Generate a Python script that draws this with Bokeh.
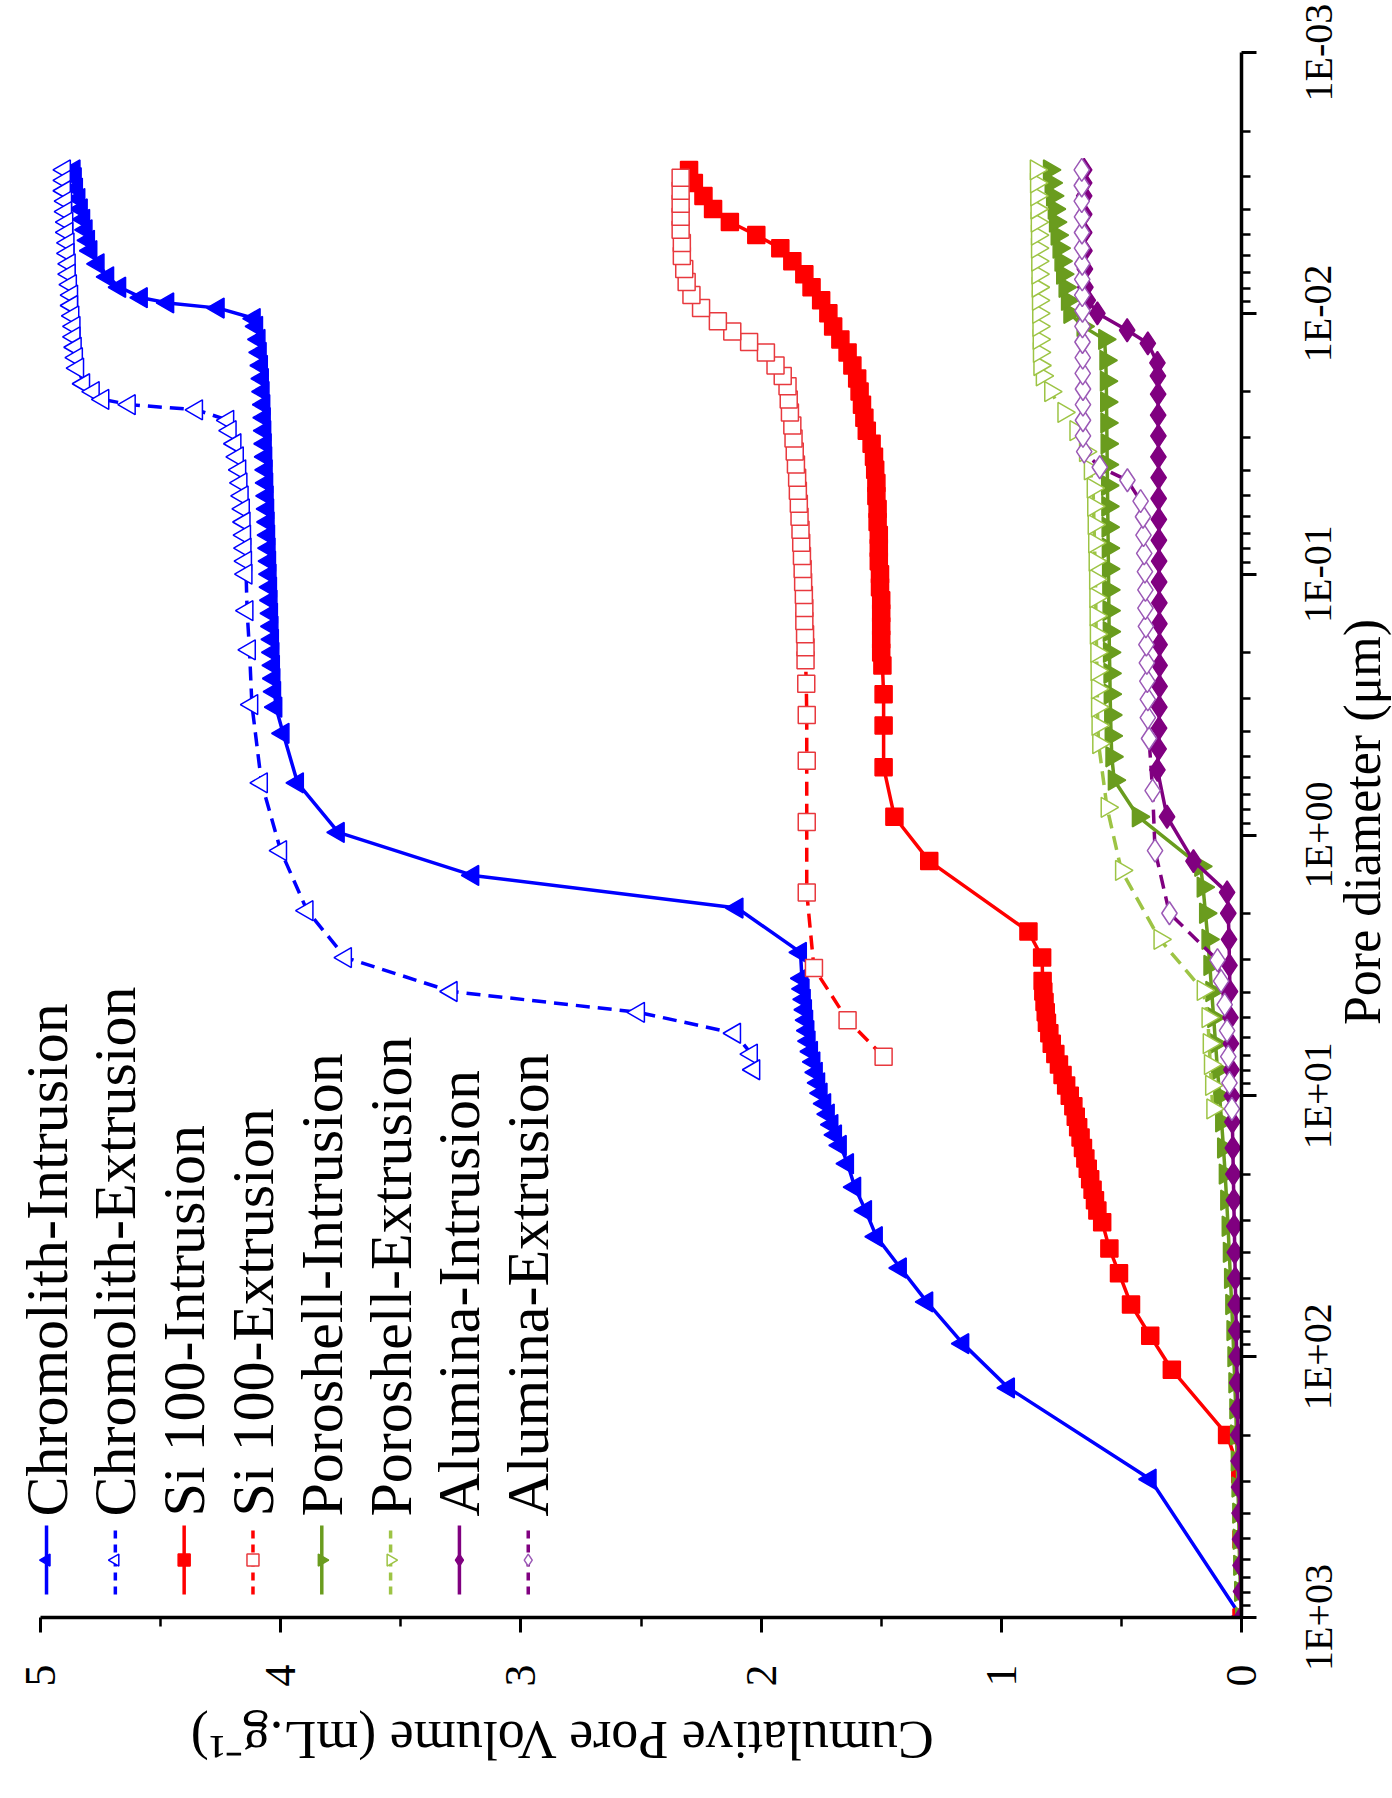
import math
import numpy as np
from bokeh.plotting import figure
from bokeh.layouts import row, column
from bokeh.models import Range1d, FixedTicker, Label
from bokeh.core.properties import value
from bokeh.embed import file_html
from bokeh.resources import INLINE

FONT = "Liberation Serif"

# ---------------- data (log10 of pore diameter in um, cumulative volume mL/g) ----------------
chromolith_int_logd = [3.00, 2.47, 2.12, 1.95, 1.79, 1.66, 1.54, 1.44, 1.35, 1.26, 1.19,
                       1.15, 1.11, 1.07, 1.03, 0.99, 0.95, 0.91, 0.87, 0.83, 0.79, 0.75, 0.71,
                       0.67, 0.63, 0.59, 0.55, 0.45, 0.28, 0.155, -0.01, -0.20, -0.39, -0.49,
                       -0.55, -0.60, -0.65, -0.70, -0.75, -0.80, -0.85, -0.90, -0.95, -1.00,
                       -1.05, -1.10, -1.15, -1.20, -1.25, -1.30, -1.35, -1.40, -1.45, -1.50,
                       -1.55, -1.60, -1.65, -1.70, -1.75, -1.80, -1.85, -1.90, -1.95, -1.98,
                       -2.02, -2.04, -2.06, -2.10, -2.14, -2.19, -2.24, -2.28, -2.32, -2.36,
                       -2.40, -2.44, -2.48, -2.52, -2.55]
chromolith_int_vol = [0.00, 0.38, 0.97, 1.16, 1.31, 1.42, 1.52, 1.565, 1.61, 1.64, 1.67,
                      1.69, 1.705, 1.72, 1.735, 1.75, 1.76, 1.77, 1.78, 1.79, 1.80, 1.805, 1.81,
                      1.815, 1.82, 1.825, 1.83, 1.836, 2.10, 3.20, 3.76, 3.93, 3.99, 4.02,
                      4.025, 4.028, 4.030, 4.032, 4.034, 4.036, 4.038, 4.040, 4.042, 4.044,
                      4.046, 4.048, 4.050, 4.052, 4.054, 4.056, 4.058, 4.060, 4.062, 4.064,
                      4.066, 4.068, 4.070, 4.073, 4.076, 4.080, 4.085, 4.090, 4.100, 4.11,
                      4.26, 4.47, 4.58, 4.67, 4.72, 4.76, 4.79, 4.80, 4.81, 4.82,
                      4.83, 4.84, 4.85, 4.855, 4.86]

chromolith_ext_logd = [-2.55, -2.51, -2.47, -2.43, -2.39, -2.35, -2.31, -2.27, -2.23, -2.19,
                       -2.15, -2.11, -2.07, -2.03, -1.99, -1.95, -1.91, -1.87, -1.83, -1.79,
                       -1.73, -1.70, -1.67, -1.65, -1.63, -1.59, -1.55, -1.50, -1.45, -1.40,
                       -1.35, -1.30, -1.25, -1.20, -1.15, -1.10, -1.05, -1.00, -0.86, -0.71,
                       -0.50, -0.20, 0.06, 0.29, 0.47, 0.60, 0.68, 0.76, 0.84, 0.90]
chromolith_ext_vol = [4.90, 4.90, 4.90, 4.895, 4.895, 4.89, 4.89, 4.885, 4.885, 4.88,
                      4.88, 4.875, 4.87, 4.87, 4.865, 4.86, 4.86, 4.855, 4.85, 4.845,
                      4.82, 4.78, 4.74, 4.63, 4.35, 4.22, 4.21, 4.19, 4.18, 4.17,
                      4.165, 4.16, 4.155, 4.152, 4.15, 4.148, 4.146, 4.144, 4.14, 4.13,
                      4.12, 4.08, 4.00, 3.89, 3.73, 3.29, 2.51, 2.11, 2.04, 2.03]

si100_int_logd = [3.00, 2.70, 2.45, 2.30, 2.05, 1.92, 1.80, 1.68, 1.585, 1.485,
                  1.44, 1.40, 1.36, 1.32, 1.28, 1.24, 1.20, 1.16, 1.12, 1.08, 1.04, 1.00,
                  0.96, 0.92, 0.88, 0.84, 0.80, 0.76, 0.72, 0.68, 0.64, 0.60, 0.56, 0.47,
                  0.37, 0.10, -0.07, -0.26, -0.42, -0.54, -0.65, -0.70, -0.75, -0.80,
                  -0.85, -0.90, -0.95, -1.00, -1.05, -1.10, -1.15, -1.20, -1.25, -1.30,
                  -1.35, -1.40, -1.45, -1.50, -1.55, -1.60, -1.65, -1.70, -1.75, -1.80,
                  -1.85, -1.90, -1.95, -2.00, -2.05, -2.10, -2.15, -2.20, -2.25, -2.30,
                  -2.35, -2.40, -2.45, -2.50, -2.55]
si100_int_vol = [0.00, 0.00, 0.005, 0.06, 0.29, 0.38, 0.46, 0.51, 0.55, 0.58,
                 0.60, 0.61, 0.62, 0.63, 0.64, 0.65, 0.66, 0.67, 0.68, 0.69, 0.70, 0.715,
                 0.73, 0.745, 0.76, 0.775, 0.79, 0.80, 0.81, 0.815, 0.82, 0.825, 0.828, 0.83,
                 0.887, 1.30, 1.445, 1.49, 1.49, 1.49, 1.495, 1.50, 1.50, 1.50,
                 1.50, 1.50, 1.505, 1.505, 1.51, 1.51, 1.51, 1.515, 1.515, 1.52,
                 1.52, 1.525, 1.53, 1.54, 1.56, 1.57, 1.58, 1.59, 1.60, 1.62,
                 1.64, 1.67, 1.70, 1.72, 1.75, 1.79, 1.82, 1.87, 1.92, 2.02,
                 2.13, 2.20, 2.24, 2.28, 2.30]

si100_ext_logd = [0.85, 0.71, 0.51, 0.22, -0.05, -0.285, -0.46, -0.58, -0.67, -0.72,
                  -0.77, -0.82, -0.87, -0.92, -0.97, -1.02, -1.07, -1.12, -1.17, -1.22,
                  -1.27, -1.32, -1.37, -1.42, -1.47, -1.52, -1.57, -1.62, -1.67, -1.72,
                  -1.76, -1.80, -1.85, -1.89, -1.93, -1.97, -2.02, -2.07, -2.12, -2.17,
                  -2.22, -2.27, -2.32, -2.37, -2.42, -2.47, -2.52]
si100_ext_vol = [1.49, 1.64, 1.78, 1.81, 1.81, 1.81, 1.81, 1.812, 1.815, 1.815,
                 1.817, 1.82, 1.82, 1.822, 1.825, 1.827, 1.83, 1.833, 1.836, 1.84,
                 1.843, 1.847, 1.85, 1.855, 1.86, 1.865, 1.87, 1.88, 1.885, 1.89,
                 1.91, 1.94, 1.98, 2.05, 2.12, 2.18, 2.25, 2.29, 2.31, 2.32,
                 2.33, 2.33, 2.335, 2.335, 2.335, 2.335, 2.335]

poroshell_int_logd = [3.00, 2.90, 2.80, 2.70, 2.60, 2.50, 2.40, 2.30, 2.20, 2.10, 2.00,
                      1.90, 1.80, 1.70, 1.60, 1.50, 1.40, 1.30, 1.20, 1.10, 1.00, 0.90,
                      0.80, 0.70, 0.60, 0.50, 0.40, 0.30, 0.20, 0.12, -0.07, -0.21, -0.30,
                      -0.38, -0.46, -0.54, -0.62, -0.70, -0.78, -0.86, -0.94, -1.02, -1.10,
                      -1.18, -1.26, -1.34, -1.42, -1.50, -1.58, -1.66, -1.74, -1.82, -1.90,
                      -1.95, -2.00, -2.05, -2.10, -2.15, -2.20, -2.25, -2.30, -2.35, -2.40,
                      -2.45, -2.50, -2.55]
poroshell_int_vol = [0.00, 0.004, 0.008, 0.010, 0.012, 0.015, 0.018, 0.021, 0.024, 0.028, 0.032,
                     0.036, 0.041, 0.046, 0.051, 0.056, 0.062, 0.068, 0.075, 0.083, 0.091, 0.10,
                     0.108, 0.116, 0.124, 0.132, 0.14, 0.15, 0.16, 0.17, 0.43, 0.53, 0.54,
                     0.543, 0.545, 0.547, 0.548, 0.55, 0.551, 0.552, 0.553, 0.554, 0.555,
                     0.556, 0.557, 0.558, 0.559, 0.56, 0.561, 0.562, 0.563, 0.565, 0.57,
                     0.66, 0.715, 0.725, 0.735, 0.745, 0.752, 0.76, 0.768, 0.775, 0.78,
                     0.787, 0.793, 0.80]

poroshell_ext_logd = [1.05, 0.96, 0.88, 0.80, 0.70, 0.596, 0.40, 0.136, -0.106, -0.35,
                      -0.42, -0.49, -0.56, -0.63, -0.70, -0.77, -0.84, -0.91, -0.98, -1.05,
                      -1.12, -1.19, -1.26, -1.33, -1.40, -1.47, -1.55, -1.62, -1.70, -1.76,
                      -1.80, -1.85, -1.90, -1.95, -2.00, -2.05, -2.10, -2.15, -2.20, -2.25,
                      -2.30, -2.35, -2.40, -2.45, -2.50, -2.55]
poroshell_ext_vol = [0.12, 0.125, 0.13, 0.135, 0.14, 0.16, 0.34, 0.50, 0.56, 0.595,
                     0.598, 0.60, 0.60, 0.602, 0.603, 0.605, 0.606, 0.607, 0.608, 0.61,
                     0.612, 0.614, 0.616, 0.618, 0.63, 0.65, 0.69, 0.74, 0.795, 0.83,
                     0.84, 0.842, 0.843, 0.844, 0.845, 0.846, 0.847, 0.848, 0.849, 0.85,
                     0.85, 0.851, 0.852, 0.853, 0.854, 0.855]

alumina_int_logd = [3.00, 2.90, 2.80, 2.70, 2.60, 2.50, 2.40, 2.30, 2.20, 2.10, 2.00,
                    1.90, 1.80, 1.70, 1.60, 1.50, 1.40, 1.30, 1.20, 1.10, 1.00, 0.90,
                    0.80, 0.70, 0.60, 0.50, 0.40, 0.30, 0.22, 0.10, -0.07, -0.25, -0.33,
                    -0.41, -0.49, -0.57, -0.65, -0.73, -0.81, -0.89, -0.97, -1.05, -1.13,
                    -1.21, -1.29, -1.37, -1.45, -1.53, -1.61, -1.69, -1.76, -1.81, -1.885,
                    -1.935, -2.00, -2.05, -2.10, -2.17, -2.24, -2.31, -2.38, -2.45, -2.50,
                    -2.55]
alumina_int_vol = [0.00, 0.002, 0.004, 0.006, 0.008, 0.010, 0.012, 0.014, 0.016, 0.018, 0.020,
                   0.022, 0.024, 0.026, 0.028, 0.030, 0.032, 0.034, 0.036, 0.038, 0.040, 0.042,
                   0.044, 0.046, 0.048, 0.050, 0.052, 0.055, 0.06, 0.20, 0.31, 0.35, 0.345,
                   0.343, 0.342, 0.341, 0.341, 0.341, 0.342, 0.342, 0.343, 0.343, 0.344,
                   0.344, 0.345, 0.345, 0.346, 0.346, 0.347, 0.347, 0.348, 0.35, 0.39,
                   0.476, 0.60, 0.64, 0.65, 0.652, 0.654, 0.655, 0.655, 0.655, 0.655,
                   0.655]

alumina_ext_logd = [1.05, 0.95, 0.85, 0.75, 0.65, 0.56, 0.48, 0.30, 0.06, -0.17, -0.37,
                    -0.45, -0.52, -0.59, -0.66, -0.73, -0.80, -0.87, -0.94, -1.01, -1.08,
                    -1.15, -1.22, -1.28, -1.36, -1.41, -1.47, -1.53, -1.59, -1.65, -1.71,
                    -1.77, -1.83, -1.89, -1.95, -2.01, -2.07, -2.13, -2.19, -2.25, -2.31,
                    -2.37, -2.43, -2.49, -2.55]
alumina_ext_vol = [0.04, 0.05, 0.055, 0.06, 0.07, 0.085, 0.10, 0.30, 0.36, 0.37, 0.385,
                   0.39, 0.39, 0.392, 0.394, 0.396, 0.398, 0.40, 0.40, 0.402, 0.405,
                   0.408, 0.41, 0.42, 0.475, 0.59, 0.655, 0.66, 0.66, 0.66, 0.66,
                   0.661, 0.661, 0.662, 0.662, 0.662, 0.663, 0.663, 0.663, 0.664, 0.664,
                   0.664, 0.665, 0.665, 0.665]

series_names = ["Chromolith-Intrusion", "Chromolith-Extrusion", "Si 100-Intrusion",
                "Si 100-Extrusion", "Poroshell-Intrusion", "Poroshell-Extrusion",
                "Alumina-Intrusion", "Alumina-Extrusion"]

vol_ticks = [0, 1, 2, 3, 4, 5]
vol_minor_ticks = [0.5, 1.5, 2.5, 3.5, 4.5]
diam_ticks = [1000.0, 100.0, 10.0, 1.0, 0.1, 0.01, 0.001]
diam_tick_labels = ["1E+03", "1E+02", "1E+01", "1E+00", "1E-01", "1E-02", "1E-03"]

x_title = "Cumulative Pore Volume (mL.g\u207b\u00b9)"
y_title = "Pore diameter (\u03bcm)"

# ---------------- styles ----------------
BLUE, RED, GREEN, GREEN_L, PURPLE, PURPLE_L = ("#0000FF", "#FF0000", "#6A9C1E",
                                               "#9DC445", "#800080", "#9B59B6")
DASH = "14 8"
styles = [
    dict(color=BLUE, dash="solid", marker="triangle", angle=math.pi / 2, fill=BLUE, mline=BLUE, size=20),
    dict(color=BLUE, dash=DASH, marker="triangle", angle=math.pi / 2, fill="white", mline=BLUE, size=20),
    dict(color=RED, dash="solid", marker="square", angle=0.0, fill=RED, mline=RED, size=17),
    dict(color=RED, dash=DASH, marker="square", angle=0.0, fill="white", mline="#E8393E", size=17),
    dict(color=GREEN, dash="solid", marker="inverted_triangle", angle=math.pi / 2, fill=GREEN, mline=GREEN, size=20),
    dict(color=GREEN_L, dash=DASH, marker="inverted_triangle", angle=math.pi / 2, fill="white", mline=GREEN_L, size=20),
    dict(color=PURPLE, dash="solid", marker="diamond", angle=0.0, fill=PURPLE, mline=PURPLE, size=23),
    dict(color=PURPLE, dash=DASH, marker="diamond", angle=0.0, fill="white", mline=PURPLE_L, size=23),
]
data = [
    (chromolith_int_logd, chromolith_int_vol), (chromolith_ext_logd, chromolith_ext_vol),
    (si100_int_logd, si100_int_vol), (si100_ext_logd, si100_ext_vol),
    (poroshell_int_logd, poroshell_int_vol), (poroshell_ext_logd, poroshell_ext_vol),
    (alumina_int_logd, alumina_int_vol), (alumina_ext_logd, alumina_ext_vol),
]

# ---------------- layout constants (chart shown rotated 90 deg counter-clockwise) ----------------
TOTAL_W, TOTAL_H = 1392, 1798
B_L, B_T, B_B = 16, 52, 83
X_START = 5.1                       # a little room left of 5 for the legend text
FRAME_W = 1225                      # 5.1 volume units
FRAME_H = 1565                      # 6 decades
P_W = 1288                          # main plot canvas width (right border holds the ticks)
B_R = P_W - B_L - FRAME_W
P_H = B_T + FRAME_H + B_B
PX_PER_VOL = FRAME_W / X_START

p = figure(width=P_W, height=P_H, output_backend="svg", toolbar_location=None, title=None,
           x_range=Range1d(X_START, 0), y_range=Range1d(1000, 0.001),
           y_axis_type="log", x_axis_location="below", y_axis_location="right",
           min_border_left=B_L, min_border_top=B_T, min_border_right=B_R, min_border_bottom=B_B)
p.grid.visible = False
p.outline_line_color = None
p.background_fill_color = "white"
p.border_fill_color = "white"

xa = p.xaxis[0]
ya = p.yaxis[0]
xa.ticker = FixedTicker(ticks=vol_ticks, minor_ticks=vol_minor_ticks)
xa.bounds = (0, 5)
minor_d = [k * 10.0 ** n for n in range(-3, 3) for k in range(2, 10)]
ya.ticker = FixedTicker(ticks=diam_ticks, minor_ticks=minor_d)
for ax in (xa, ya):
    ax.axis_line_width = 3.5
    ax.axis_line_color = "black"
    ax.major_tick_line_width = 3
    ax.minor_tick_line_width = 2.5
    ax.major_tick_in = 0
    ax.major_tick_out = 15
    ax.minor_tick_in = 0
    ax.minor_tick_out = 9
    ax.major_label_text_font = FONT
    ax.major_label_text_color = "black"
xa.major_label_text_font_size = "44px"
xa.major_label_orientation = math.pi / 2
xa.major_label_standoff = 32
# the diameter tick labels are shown by the axis of the strip on the right
ya.major_label_text_font_size = "0px"
ya.major_label_overrides = {t: "" for t in diam_ticks}
ya.major_label_standoff = 0

for (logd, vol), st in zip(data, styles):
    d = 10.0 ** np.array(logd)
    v = np.array(vol)
    p.line(v, d, line_color=st["color"], line_width=3.5, line_dash=st["dash"])
    p.scatter(v, d, marker=st["marker"], angle=st["angle"], size=st["size"],
              fill_color=st["fill"], line_color=st["mline"], line_width=1.5)

# legend (rotated), drawn by hand
leg_x0, leg_dx = 4.975, 0.2865
for i, (name, st) in enumerate(zip(series_names, styles)):
    lx = leg_x0 - i * leg_dx
    p.line([lx, lx], [10 ** 2.912, 10 ** 2.647], line_color=st["color"], line_width=3.5,
           line_dash="8 6" if st["dash"] != "solid" else "solid")
    p.scatter([lx], [10 ** 2.78], marker=st["marker"], angle=st["angle"], size=12,
              fill_color=st["fill"], line_color=st["mline"], line_width=1.5)
    p.add_layout(Label(x=lx, y=10 ** 2.613, text=name, angle=math.pi / 2,
                       text_font=FONT, text_font_size="60px", text_align="left",
                       text_baseline="middle", text_color="black"))

# ---------------- right strip: diameter tick labels (its left axis) and axis title ----------------
R_W = TOTAL_W - P_W
R_BL = 52                            # border that holds the rotated tick labels
pr = figure(width=R_W, height=P_H, output_backend="svg", toolbar_location=None, title=None,
            x_range=Range1d(P_W + R_BL, TOTAL_W), y_range=p.y_range,
            y_axis_type="log", x_axis_location=None, y_axis_location="left",
            min_border_left=R_BL, min_border_right=0, min_border_top=B_T, min_border_bottom=B_B)
pr.grid.visible = False
pr.outline_line_color = None
ra = pr.yaxis[0]
ra.ticker = FixedTicker(ticks=diam_ticks, minor_ticks=[])
ra.major_label_overrides = {t: l for t, l in zip(diam_ticks, diam_tick_labels)}
ra.major_label_orientation = "vertical"
ra.major_label_text_font = FONT
ra.major_label_text_font_size = "40px"
ra.major_label_text_color = "black"
ra.major_label_standoff = 0
ra.axis_line_color = None
ra.major_tick_line_color = None
ra.minor_tick_line_color = None
ra.major_tick_out = 0
ra.major_tick_in = 0
ra.minor_tick_out = 0
ra.minor_tick_in = 0
pr.text(x=[1362], y=[10 ** -0.05], text=[y_title], angle=math.pi / 2,
        text_font=value(FONT), text_font_size=value("52px"), text_align="center",
        text_baseline="middle", text_color="black")

# ---------------- bottom strip: volume axis title ----------------
BT_H = TOTAL_H - P_H
v_left = X_START + B_L / PX_PER_VOL
v_right = -(TOTAL_W - (B_L + FRAME_W)) / PX_PER_VOL
pb = figure(width=TOTAL_W, height=BT_H, output_backend="svg", toolbar_location=None, title=None,
            x_range=Range1d(v_left, v_right), y_range=Range1d(0, BT_H),
            x_axis_location=None, y_axis_location=None,
            min_border_left=0, min_border_right=0, min_border_top=0, min_border_bottom=0)
pb.grid.visible = False
pb.outline_line_color = None
pb.text(x=[2.83], y=[BT_H - 39], text=[x_title], angle=math.pi,
        text_font=value(FONT), text_font_size=value("54px"), text_align="center",
        text_baseline="middle", text_color="black")

layout = column(row(p, pr), pb)
open("out.html", "w").write(file_html(layout, INLINE))
